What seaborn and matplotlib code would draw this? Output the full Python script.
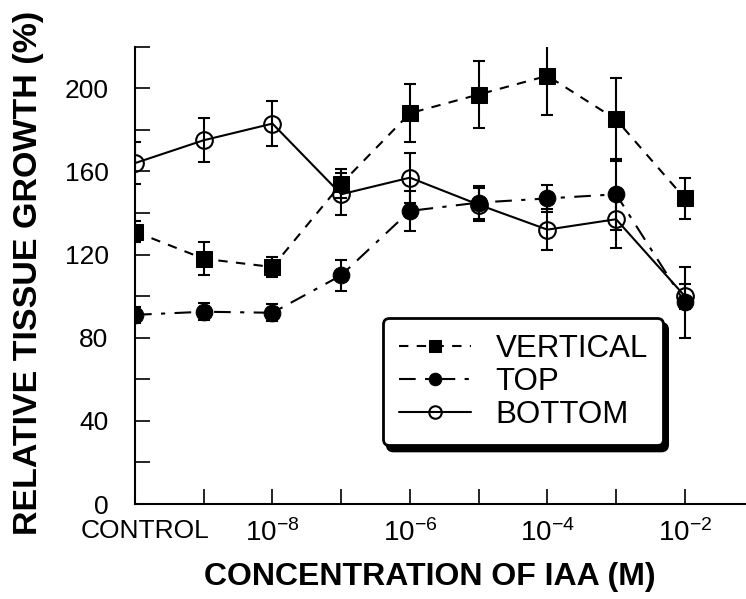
import matplotlib
matplotlib.use("Agg")
import matplotlib.pyplot as plt
import matplotlib.transforms as mtransforms
import seaborn as sns

# Concentration steps (control + 1e-9 ... 1e-2 M), equally spaced on the axis
concentrations = ["CONTROL", "1e-9", "1e-8", "1e-7", "1e-6", "1e-5", "1e-4", "1e-3", "1e-2"]
x_pos = list(range(len(concentrations)))

# Relative tissue growth (%) and error bars for each tissue segment
vertical = [131, 118, 114, 154, 188, 197, 206, 185, 147]
vertical_err = [5, 8, 5, 7, 14, 16, 19, 20, 10]
top = [91, 92.5, 92, 110, 141, 145, 147, 149, 97]
top_err = [4, 4, 4, 7.5, 9.5, 8, 6.5, 17, 17]
bottom = [164, 175, 183, 149, 157, 144, 132, 137, 100]
bottom_err = [10, 10.5, 11, 10, 12, 8, 10, 14, 6]

x_tick_labels = ["CONTROL", "", r"$10^{-8}$", "", r"$10^{-6}$", "", r"$10^{-4}$", "", r"$10^{-2}$"]
y_ticks = list(range(0, 221, 20))
y_tick_labels = [str(v) if v % 40 == 0 and v <= 200 else "" for v in y_ticks]

sns.set_theme(style="ticks")
plt.rcParams["font.family"] = ["Liberation Sans", "DejaVu Sans"]
plt.rcParams["mathtext.fontset"] = "custom"
plt.rcParams["mathtext.rm"] = "Liberation Sans"
plt.rcParams["mathtext.it"] = "Liberation Sans"
for key in ["text.color", "axes.labelcolor", "xtick.color", "ytick.color", "axes.edgecolor"]:
    plt.rcParams[key] = "black"

fig = plt.figure(figsize=(7.46, 5.99), dpi=100)
ax = fig.add_axes([135 / 746, 1 - 504 / 599, 611 / 746, (504 - 46.7) / 599])

lw = 1.5
ms_sq = 11
ms_ci = 12

series = [
    ("VERTICAL", vertical, vertical_err, dict(marker="s", linestyle=(0, (4.5, 4.0)),
                                               markersize=ms_sq, markerfacecolor="black")),
    ("TOP", top, top_err, dict(marker="o", linestyle=(0, (8, 4.5, 2, 4.5)),
                               markersize=ms_ci, markerfacecolor="black")),
    ("BOTTOM", bottom, bottom_err, dict(marker="o", linestyle="-",
                                        markersize=ms_ci, markerfacecolor="none",
                                        markeredgewidth=1.5)),
]

for name, vals, errs, kw in series:
    ax.errorbar(x_pos, vals, yerr=errs, fmt="none", ecolor="black",
                elinewidth=1.5, capsize=4.5, capthick=1.5, zorder=2)
    sns.lineplot(x=x_pos, y=vals, ax=ax, color="black", linewidth=lw,
                 markeredgecolor="black", label=name, zorder=3, **kw)

ax.set_xlim(0, 8.89)
ax.set_ylim(0, 220)

ax.set_xticks(x_pos)
ax.set_xticklabels(x_tick_labels, fontsize=20)
ax.set_yticks(y_ticks)
ax.set_yticklabels(y_tick_labels, fontsize=19)

ax.tick_params(axis="x", direction="in", length=11, width=1.2, pad=11, colors="black")
ax.tick_params(axis="y", direction="in", length=11, width=1.2, pad=19, colors="black")

# nudge the CONTROL label slightly to the right
shift = mtransforms.ScaledTranslation(10 / 100, 0, fig.dpi_scale_trans)
ax.get_xticklabels()[0].set_transform(ax.get_xticklabels()[0].get_transform() + shift)
ax.get_xticklabels()[0].set_fontsize(19)

for side in ["top", "right"]:
    ax.spines[side].set_visible(False)
for side in ["left", "bottom"]:
    ax.spines[side].set_linewidth(1.5)
    ax.spines[side].set_color("black")

ax.set_xlabel("CONCENTRATION OF IAA (M)", fontsize=23, fontweight="bold", va="center")
ax.xaxis.set_label_coords(0.483, -0.16)
ax.set_ylabel("RELATIVE TISSUE GROWTH (%)", fontsize=24.5, fontweight="bold", va="center")
ax.yaxis.set_label_coords(-0.175, 0.505)

handles, labels = ax.get_legend_handles_labels()
leg = ax.legend(handles, labels, loc="upper left", bbox_to_anchor=(0.406, 0.407),
                borderaxespad=0, fontsize=22.5, handlelength=2.3, handletextpad=0.8,
                labelspacing=0.1, borderpad=0.5, markerscale=0.75,
                frameon=True, fancybox=True, framealpha=1,
                shadow={"ox": 3, "oy": -4, "color": "black", "alpha": 1})
frame = leg.get_frame()
frame.set_edgecolor("black")
frame.set_linewidth(2)
frame.set_facecolor("white")
frame.set_boxstyle("round,pad=0,rounding_size=0.2")
for t in leg.get_texts():
    t.set_color("black")

fig.savefig("out.png", dpi=100, facecolor="white")
